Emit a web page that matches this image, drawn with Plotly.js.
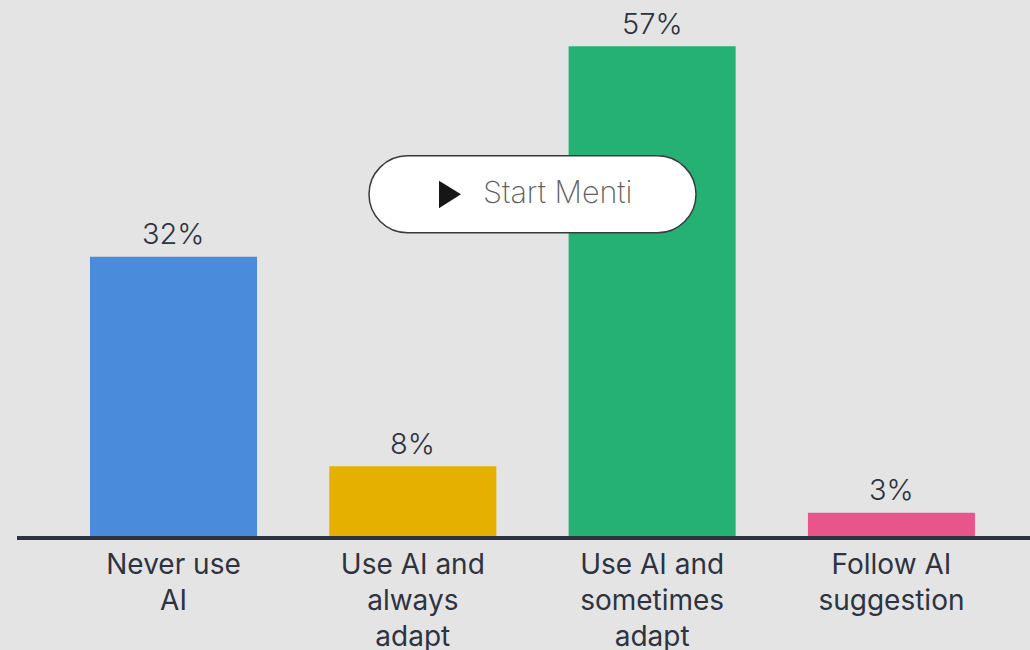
<!DOCTYPE html>
<html><head><meta charset="utf-8">
<script src="https://cdn.plot.ly/plotly-3.0.1.min.js"></script>
<style>html,body{margin:0;padding:0;background:#e4e4e4;overflow:hidden}</style>
</head><body><div id="chart" style="width:1030px;height:650px"></div>
<script>
const categories = ["Never use<br>AI","Use AI and<br>always<br>adapt","Use AI and<br>sometimes<br>adapt","Follow AI<br>suggestion"];
const values = [32.4, 8.1, 56.8, 2.7];
const labels = ["32%","8%","57%","3%"];
const colors = ["#4a8bdb","#e5b000","#25b074","#e8558a"];
const textColor = "#2d3340";
const fontName = "Inter, sans-serif";
const W=1030,H=650,L=17,B=113.5,PH=H-B,PW=W-L;
const px=x=>(x-L)/PW, py=y=>1-y/PH;
const pt=(x,y)=>px(x).toFixed(5)+","+py(y).toFixed(5);
const btn=[369,156,696,233], r=38.5, k=r*0.552;
const [x0,y0,x1,y1]=btn;
const pill="M"+pt(x0+r,y0)+" L"+pt(x1-r,y0)+
 " C"+pt(x1-r+k,y0)+" "+pt(x1,y0+r-k)+" "+pt(x1,y0+r)+
 " C"+pt(x1,y0+r+k)+" "+pt(x1-r+k,y1)+" "+pt(x1-r,y1)+
 " L"+pt(x0+r,y1)+
 " C"+pt(x0+r-k,y1)+" "+pt(x0,y0+r+k)+" "+pt(x0,y0+r)+
 " C"+pt(x0,y0+r-k)+" "+pt(x0+r-k,y0)+" "+pt(x0+r,y0)+" Z";
const tri="M"+pt(439,181)+" L"+pt(461,194.5)+" L"+pt(439,208.5)+" Z";
const data=[{type:"bar",x:categories,y:values,width:0.698,
 marker:{color:colors,line:{width:0}},cliponaxis:false,hoverinfo:"skip"}];
const valueNotes=categories.map((c,i)=>({xref:"x",yref:"y",x:c,y:values[i],yanchor:"middle",xanchor:"center",
 yshift:23,showarrow:false,text:labels[i],font:{family:fontName,size:29,weight:300,color:textColor}}));
const layout={width:W,height:H,margin:{l:L,r:0,t:0,b:B,pad:0},
 paper_bgcolor:"#e4e4e4",plot_bgcolor:"#e4e4e4",showlegend:false,
 font:{family:fontName,color:textColor},
 xaxis:{type:"category",categoryorder:"array",categoryarray:categories,
  range:[-0.654,3.579],showgrid:false,zeroline:false,showline:true,linecolor:"#2d3340",linewidth:4,
  ticks:"",tickangle:0,tickfont:{family:fontName,size:28,weight:400,color:textColor}},
 yaxis:{range:[0,PH/8.63],visible:false,showgrid:false,zeroline:false,fixedrange:true},
 shapes:[
  {type:"path",xref:"paper",yref:"paper",path:pill,fillcolor:"#ffffff",line:{color:"#3a3a3a",width:1.5},layer:"above"},
  {type:"path",xref:"paper",yref:"paper",path:tri,fillcolor:"#161616",line:{width:0},layer:"above"}
 ],
 annotations:valueNotes.concat([{xref:"paper",yref:"paper",x:px(557),y:py(192),xanchor:"center",yanchor:"middle",showarrow:false,
  text:"Start Menti",font:{family:fontName,size:30.5,weight:200,color:"#5f5f5f"}}])
};
Plotly.newPlot("chart",data,layout,{displayModeBar:false,staticPlot:true});
</script></body></html>
